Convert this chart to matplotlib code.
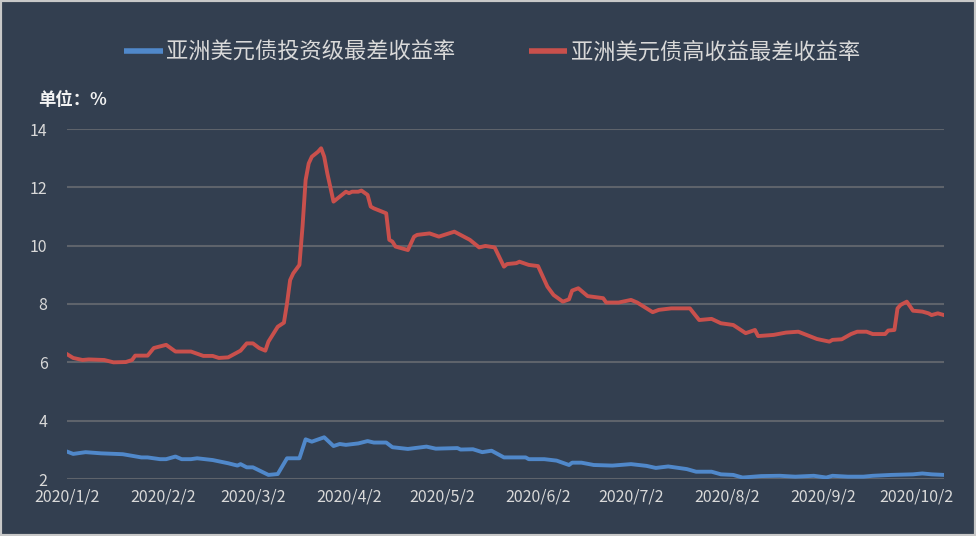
import matplotlib
matplotlib.use("Agg")
import matplotlib.pyplot as plt
import matplotlib.dates as mdates
import pandas as pd
from matplotlib.patches import Rectangle

plt.rcParams['font.family'] = ['Noto Sans CJK SC', 'DejaVu Sans']

series_names = ["亚洲美元债投资级最差收益率", "亚洲美元债高收益最差收益率"]

hy_dates = ["2020-01-02", "2020-01-04", "2020-01-07", "2020-01-09", "2020-01-14", "2020-01-17",
            "2020-01-21", "2020-01-23", "2020-01-24", "2020-01-28", "2020-01-30", "2020-02-03",
            "2020-02-06", "2020-02-11", "2020-02-15", "2020-02-18", "2020-02-20", "2020-02-23",
            "2020-02-27", "2020-02-29", "2020-03-02", "2020-03-04", "2020-03-06", "2020-03-07",
            "2020-03-10", "2020-03-12", "2020-03-13", "2020-03-14", "2020-03-15", "2020-03-17",
            "2020-03-18", "2020-03-19", "2020-03-20", "2020-03-21", "2020-03-23", "2020-03-24",
            "2020-03-25", "2020-03-26", "2020-03-28", "2020-03-30", "2020-04-01", "2020-04-02",
            "2020-04-03", "2020-04-05", "2020-04-06", "2020-04-08", "2020-04-09", "2020-04-10",
            "2020-04-14", "2020-04-15", "2020-04-16", "2020-04-17", "2020-04-21", "2020-04-23",
            "2020-04-24", "2020-04-28", "2020-05-01", "2020-05-06", "2020-05-11", "2020-05-14",
            "2020-05-16", "2020-05-19", "2020-05-22", "2020-05-23", "2020-05-26", "2020-05-27",
            "2020-05-30", "2020-06-02", "2020-06-05", "2020-06-07", "2020-06-10", "2020-06-12",
            "2020-06-13", "2020-06-15", "2020-06-18", "2020-06-23", "2020-06-24", "2020-06-28",
            "2020-07-02", "2020-07-04", "2020-07-09", "2020-07-11", "2020-07-15", "2020-07-21",
            "2020-07-24", "2020-07-28", "2020-07-31", "2020-08-04", "2020-08-08", "2020-08-11",
            "2020-08-12", "2020-08-17", "2020-08-21", "2020-08-25", "2020-08-31", "2020-09-04",
            "2020-09-05", "2020-09-08", "2020-09-11", "2020-09-13", "2020-09-16", "2020-09-18",
            "2020-09-22", "2020-09-23", "2020-09-25", "2020-09-26", "2020-09-27", "2020-09-29",
            "2020-10-01", "2020-10-04", "2020-10-06", "2020-10-07", "2020-10-09", "2020-10-11"]
hy_values = [6.28, 6.15, 6.08, 6.10, 6.08, 6.00,
             6.01, 6.08, 6.23, 6.23, 6.49, 6.60,
             6.37, 6.37, 6.22, 6.22, 6.15, 6.17,
             6.40, 6.65, 6.65, 6.49, 6.40, 6.71,
             7.22, 7.36, 8.02, 8.82, 9.05, 9.34,
             10.65, 12.25, 12.82, 13.05, 13.22, 13.34,
             13.05, 12.48, 11.51, 11.68, 11.85, 11.80,
             11.85, 11.85, 11.89, 11.74, 11.34, 11.28,
             11.11, 10.20, 10.14, 9.97, 9.85, 10.31,
             10.37, 10.42, 10.31, 10.48, 10.20, 9.94,
             9.99, 9.94, 9.28, 9.37, 9.40, 9.45,
             9.34, 9.30, 8.60, 8.31, 8.08, 8.16,
             8.46, 8.54, 8.27, 8.20, 8.05, 8.05,
             8.14, 8.05, 7.72, 7.80, 7.85, 7.85,
             7.45, 7.49, 7.34, 7.28, 7.00, 7.11,
             6.90, 6.94, 7.02, 7.05, 6.80, 6.71,
             6.77, 6.79, 6.97, 7.05, 7.05, 6.97,
             6.97, 7.09, 7.11, 7.85, 7.97, 8.08,
             7.77, 7.74, 7.68, 7.62, 7.68, 7.62]

ig_dates = ["2020-01-02", "2020-01-04", "2020-01-08", "2020-01-13", "2020-01-20", "2020-01-26",
            "2020-01-28", "2020-02-01", "2020-02-03", "2020-02-06", "2020-02-08", "2020-02-11",
            "2020-02-13", "2020-02-18", "2020-02-23", "2020-02-26", "2020-02-27", "2020-02-29",
            "2020-03-02", "2020-03-07", "2020-03-10", "2020-03-13", "2020-03-17", "2020-03-19",
            "2020-03-21", "2020-03-25", "2020-03-28", "2020-03-30", "2020-04-01", "2020-04-05",
            "2020-04-08", "2020-04-10", "2020-04-14", "2020-04-16", "2020-04-21", "2020-04-27",
            "2020-04-30", "2020-05-07", "2020-05-08", "2020-05-12", "2020-05-15", "2020-05-18",
            "2020-05-22", "2020-05-29", "2020-05-30", "2020-06-04", "2020-06-08", "2020-06-12",
            "2020-06-13", "2020-06-16", "2020-06-20", "2020-06-26", "2020-07-02", "2020-07-07",
            "2020-07-10", "2020-07-14", "2020-07-20", "2020-07-23", "2020-07-28", "2020-07-31",
            "2020-08-04", "2020-08-07", "2020-08-13", "2020-08-19", "2020-08-24", "2020-08-30",
            "2020-09-03", "2020-09-05", "2020-09-10", "2020-09-15", "2020-09-18", "2020-09-24",
            "2020-10-01", "2020-10-04", "2020-10-07", "2020-10-11"]
ig_values = [2.94, 2.86, 2.92, 2.88, 2.85, 2.74,
             2.74, 2.68, 2.68, 2.77, 2.68, 2.68,
             2.71, 2.65, 2.54, 2.46, 2.51, 2.40,
             2.40, 2.14, 2.17, 2.71, 2.71, 3.36,
             3.28, 3.43, 3.13, 3.20, 3.17, 3.22,
             3.30, 3.25, 3.25, 3.09, 3.03, 3.11,
             3.04, 3.06, 3.01, 3.02, 2.92, 2.97,
             2.74, 2.74, 2.68, 2.68, 2.63, 2.48,
             2.56, 2.56, 2.48, 2.46, 2.51, 2.45,
             2.38, 2.43, 2.34, 2.25, 2.25, 2.16,
             2.14, 2.05, 2.10, 2.11, 2.08, 2.11,
             2.05, 2.11, 2.08, 2.08, 2.11, 2.14,
             2.16, 2.19, 2.16, 2.14]

x_tick_labels = ["2020/1/2", "2020/2/2", "2020/3/2", "2020/4/2", "2020/5/2",
                 "2020/6/2", "2020/7/2", "2020/8/2", "2020/9/2", "2020/10/2"]
y_ticks = [2, 4, 6, 8, 10, 12, 14]

BG = '#333F50'
TXT = '#D9D9D9'
GRID = '#5E636B'
BLUE = '#5088CA'
RED = '#C9504C'

fig = plt.figure(figsize=(9.76, 5.36), dpi=100, facecolor=BG)
ax = fig.add_axes([67/976, 1-479/536, (944-67)/976, 350/536])
ax.set_facecolor(BG)

ig_x = pd.to_datetime(ig_dates)
hy_x = pd.to_datetime(hy_dates)
l1, = ax.plot(ig_x, ig_values, color=BLUE, lw=2.8, solid_joinstyle='round', label=series_names[0], zorder=3)
l2, = ax.plot(hy_x, hy_values, color=RED, lw=2.8, solid_joinstyle='round', label=series_names[1], zorder=3)

ax.set_ylim(2, 14)
ax.set_yticks(y_ticks)
ax.set_xlim(hy_x[0], hy_x[-1])
tick_pos = pd.to_datetime([s.replace('/', '-') for s in x_tick_labels], format="%Y-%m-%d")
ax.set_xticks(tick_pos)
ax.set_xticklabels(x_tick_labels)

ax.grid(axis='y', color=GRID, lw=1.5)
ax.set_axisbelow(True)
for s in ax.spines.values():
    s.set_visible(False)
ax.tick_params(axis='both', length=0, colors=TXT, labelsize=11.5)
ax.tick_params(axis='x', pad=7)
ax.tick_params(axis='y', pad=14)

fig.text(38/976, 1-100/536, "单位：%", color='#F2F2F2', fontsize=12.5, fontweight='bold',
         ha='left', va='center')

leg = fig.legend(handles=[l1, l2], loc='center', bbox_to_anchor=(0.504, 1-52/536), ncol=2,
                 frameon=False, fontsize=16, labelcolor=TXT, handlelength=1.75,
                 handletextpad=0.15, columnspacing=3.3)
for h in leg.legend_handles:
    h.set_linewidth(4)
    h.set_solid_capstyle('butt')

fig.patches.append(Rectangle((0, 0), 1, 1, transform=fig.transFigure, fill=False,
                             edgecolor='#C8C8C8', lw=3, zorder=10))

fig.savefig("out.png", dpi=100, facecolor=BG)
